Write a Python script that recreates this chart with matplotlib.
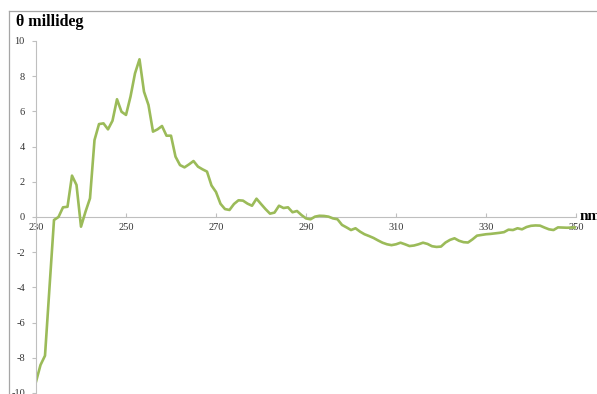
import matplotlib
matplotlib.use("Agg")
import matplotlib.pyplot as plt
from matplotlib.lines import Line2D

# longueur d'onde (nm) et signal CD (millideg)
wavelength = list(range(230, 351))
theta = [
    -9.36, -8.41, -7.88, -4.00, -0.17, 0.00, 0.55, 0.58, 2.35, 1.82,
    -0.55, 0.30, 1.06, 4.37, 5.28, 5.32, 4.98, 5.47, 6.69, 5.98,
    5.80, 6.84, 8.16, 8.96, 7.12, 6.36, 4.85, 4.98, 5.17, 4.62,
    4.62, 3.43, 2.95, 2.82, 2.99, 3.18, 2.86, 2.71, 2.58, 1.79,
    1.42, 0.75, 0.45, 0.40, 0.74, 0.95, 0.93, 0.76, 0.64, 1.04,
    0.74, 0.45, 0.19, 0.25, 0.64, 0.51, 0.55, 0.27, 0.34, 0.11,
    -0.08, -0.13, 0.02, 0.07, 0.06, 0.02, -0.08, -0.13, -0.45, -0.59,
    -0.74, -0.64, -0.83, -0.98, -1.08, -1.19, -1.33, -1.46, -1.55, -1.60,
    -1.55, -1.46, -1.55, -1.65, -1.62, -1.55, -1.46, -1.53, -1.66, -1.70,
    -1.68, -1.45, -1.30, -1.21, -1.35, -1.43, -1.45, -1.27, -1.06, -1.02,
    -0.98, -0.96, -0.93, -0.90, -0.86, -0.72, -0.74, -0.64, -0.70, -0.57,
    -0.50, -0.48, -0.49, -0.60, -0.70, -0.74, -0.59, -0.60, -0.61, -0.60,
    -0.59,
]
x_ticks = [230, 250, 270, 290, 310, 330, 350]
y_ticks = [-10, -8, -6, -4, -2, 0, 2, 4, 6, 8, 10]

plt.rcParams['font.family'] = ['Liberation Serif', 'DejaVu Serif']
plt.rcParams['axes.unicode_minus'] = False

W, H = 597, 394
fig = plt.figure(figsize=(W / 100, H / 100), dpi=100)
ax = fig.add_axes([36 / W, 1 / H, 540 / W, 352 / H])

ax.plot(wavelength, theta, color='#9BBB59', linewidth=1.9, solid_joinstyle='round')

ax.set_xlim(230, 350)
ax.set_ylim(-10, 10)
ax.set_xticks(x_ticks)
ax.set_yticks(y_ticks)

# axe x a y=0, axe y a gauche
ax.spines['top'].set_visible(False)
ax.spines['right'].set_visible(False)
ax.spines['bottom'].set_position(('data', 0))
ax.spines['bottom'].set_color('#BFBFBF')
ax.spines['left'].set_color('#BFBFBF')
ax.spines['bottom'].set_linewidth(0.8)
ax.spines['left'].set_linewidth(0.8)
ax.spines['bottom'].set_zorder(1)

ax.tick_params(axis='y', direction='out', length=3, width=0.8, color='#BFBFBF',
               labelsize=7.5, pad=5, labelcolor='#333333')
ax.tick_params(axis='x', direction='in', length=3, width=0.8, color='#BFBFBF',
               labelsize=7.5, pad=4, labelcolor='#333333')

# titres
fig.text(16 / W, 1 - 22 / H, 'θ millideg', fontsize=11.5, fontweight='bold',
         va='center', ha='left')
fig.text(580 / W, 1 - 216 / H, 'nm', fontsize=11, fontweight='bold',
         va='center', ha='left')

# cadre gris autour du graphique
fig.add_artist(Line2D([9 / W, 1], [1 - 11 / H, 1 - 11 / H], color='#A6A6A6',
                      linewidth=0.9, transform=fig.transFigure))
fig.add_artist(Line2D([9 / W, 9 / W], [0, 1 - 11 / H], color='#A6A6A6',
                      linewidth=0.9, transform=fig.transFigure))

fig.savefig('out.png', dpi=100)
plt.close(fig)
